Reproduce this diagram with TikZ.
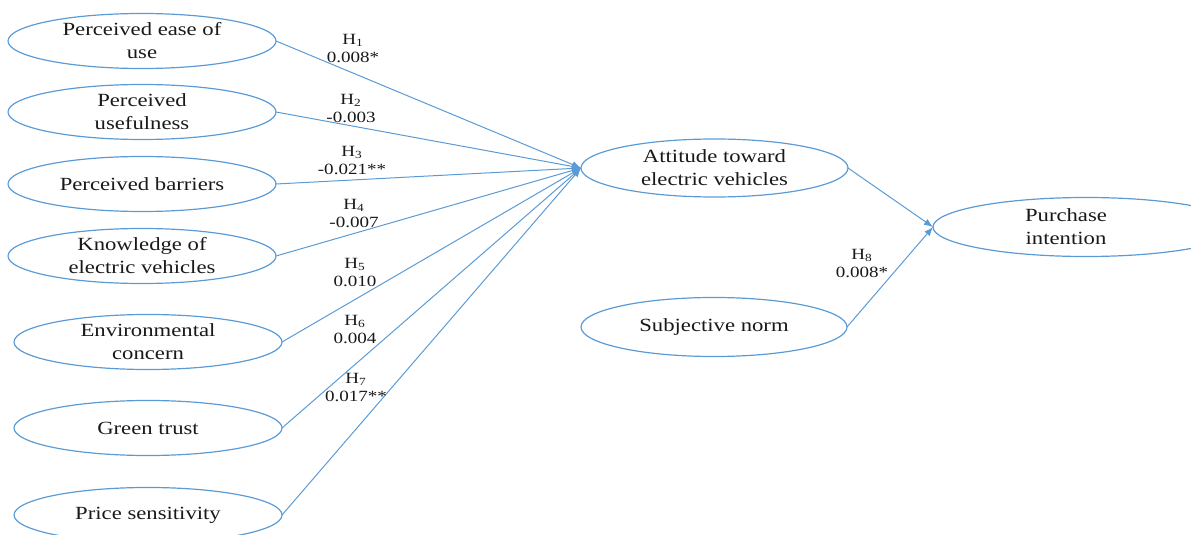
\documentclass[tikz,border=0pt]{standalone}
\usepackage{fontspec}
\setmainfont{Liberation Serif}[FakeStretch=1.22]
\usetikzlibrary{arrows.meta,shapes.geometric}
\definecolor{lblue}{HTML}{5B9BD5}
\tikzset{
  construct/.style={ellipse, draw=lblue, line width=0.6pt, inner sep=0pt, outer sep=0pt,
    minimum width=134pt, minimum height=27.5pt, align=center,
    font=\fontsize{9.3}{11.5}\selectfont, text=black!90},
  path/.style={draw=lblue, line width=0.5pt, -{Latex[length=4.5pt,width=3.5pt]}},
  coef/.style={align=center, inner sep=0pt, font=\fontsize{7.8}{9}\selectfont, text=black!90}
}
\begin{document}
\begin{tikzpicture}[x=0.5pt,y=-0.5pt]
\useasboundingbox (0,0) rectangle (1191,535);
\clip (0,0) rectangle (1191,535);
% predictors
\node[construct] (e1) at (142,41) {Perceived ease of\\use};
\node[construct] (e2) at (142,112) {Perceived\\usefulness};
\node[construct] (e3) at (142,184) {Perceived barriers};
\node[construct] (e4) at (142,256) {Knowledge of\\electric vehicles};
\node[construct] (e5) at (148,342) {Environmental\\concern};
\node[construct] (e6) at (148,428) {Green trust};
\node[construct] (e7) at (148,515) {Price sensitivity};
% mediator and outcomes
\node[construct, minimum width=133.5pt, minimum height=29pt] (att) at (714.5,168) {Attitude toward\\electric vehicles};
\node[construct, minimum width=133pt, minimum height=29.5pt] (sn) at (714,327) {Subjective norm};
\node[construct, minimum width=153pt, minimum height=29.5pt] (pi) at (1086,227) {};
\node[construct, draw=none, minimum width=0pt, minimum height=0pt] (pitext) at (1066,227) {Purchase\\intention};
% connectors
\foreach \n in {e1,e2,e3,e4,e5,e6,e7}{
  \draw[path] (\n.east) -- (att.west);
}
\draw[path] (att.east) -- (pi.west);
\draw[path] (sn.east) -- (pi.west);
% coefficients
\node[coef] (h1) at (353,49) {H\textsubscript{1}\\0.008*};
\node[coef] (h2) at (351,109) {H\textsubscript{2}\\-0.003};
\node[coef] (h3) at (352,160.5) {H\textsubscript{3}\\-0.021**};
\node[coef] (h4) at (354,214) {H\textsubscript{4}\\-0.007};
\node[coef] (h5) at (355,273) {H\textsubscript{5}\\0.010};
\node[coef] (h6) at (355,330) {H\textsubscript{6}\\0.004};
\node[coef] (h7) at (356,388) {H\textsubscript{7}\\0.017**};
\node[coef] (h8) at (862,264) {H\textsubscript{8}\\0.008*};
\end{tikzpicture}
\end{document}
